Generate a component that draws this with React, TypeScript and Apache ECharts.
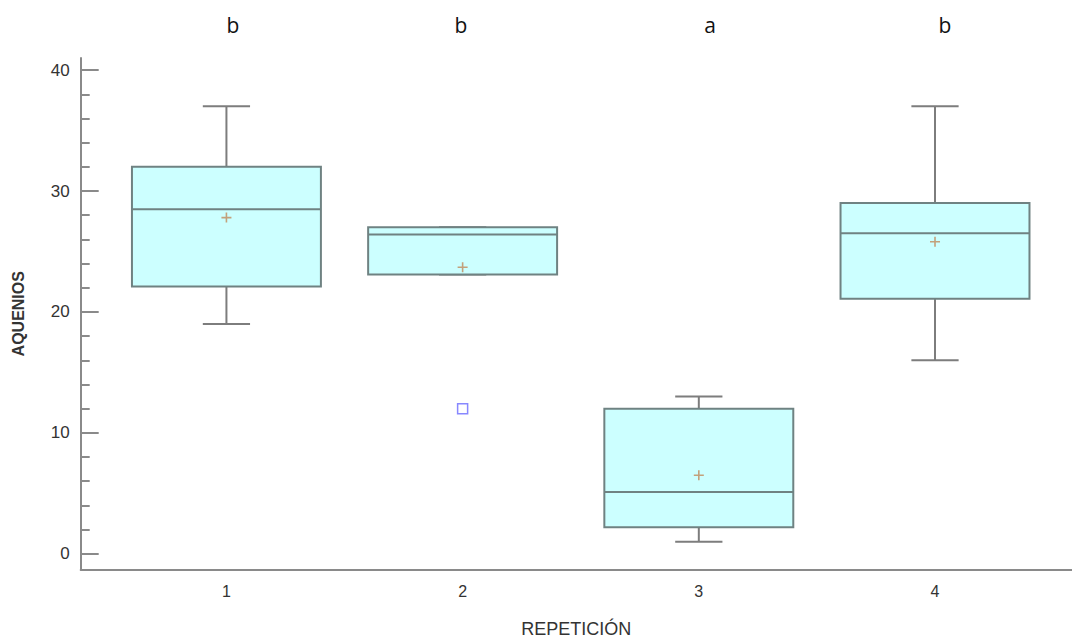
import React, { useEffect, useRef } from "react";
import * as echarts from "echarts";

const categories = [1, 2, 3, 4];
const lowerWhisker = [19, 23.1, 1, 16];
const q1 = [22.1, 23.1, 2.2, 21.1];
const median = [28.5, 26.4, 5.1, 26.5];
const q3 = [32, 27, 12, 29];
const upperWhisker = [37, 27, 13, 37];
const means = [27.8, 23.7, 6.5, 25.8];
const outliers: [number, number][] = [[2, 12]];
const letters = ["b", "b", "a", "b"];
const letterX = [233, 461, 710, 945];
const yMajor = [0, 10, 20, 30, 40];
const yMinor = [2, 4, 6, 8, 12, 14, 16, 18, 22, 24, 26, 28, 32, 34, 36, 38];

const AXIS = "#8a8a8a";
const BOX_EDGE = "#6f8282";

export default function App() {
  const ref = useRef<HTMLDivElement>(null);
  useEffect(() => {
    if (!ref.current) return;
    const chart = echarts.init(ref.current, null, { renderer: "svg" });
    const boxData = categories.map((c, i) => [
      c,
      lowerWhisker[i],
      q1[i],
      median[i],
      q3[i],
      upperWhisker[i],
    ]);
    const yCommon = {
      type: "value",
      min: -1.3,
      max: 41,
      splitLine: { show: false },
    };
    chart.setOption({
      animation: false,
      backgroundColor: "#ffffff",
      grid: {
        left: 80.7,
        right: 0,
        top: 58,
        bottom: 74.5,
        containLabel: false,
        outerBoundsMode: "none",
      },
      xAxis: {
        type: "value",
        min: 0.383,
        max: 4.58,
        name: "REPETICIÓN",
        nameLocation: "middle",
        nameGap: 50,
        nameTextStyle: {
          fontFamily: "Liberation Sans Narrow, Arial Narrow, Liberation Sans, sans-serif",
          fontSize: 18,
          color: "#333",
        },
        axisLine: { show: true, onZero: false, lineStyle: { color: AXIS, width: 2 } },
        axisTick: { show: false },
        splitLine: { show: false },
        axisLabel: {
          customValues: categories,
          fontFamily: "Liberation Sans, Arial, sans-serif",
          fontSize: 16,
          color: "#333",
          margin: 14,
        },
      },
      yAxis: [
        {
          ...yCommon,
          name: "AQUENIOS",
          nameLocation: "middle",
          nameGap: 54,
          nameTextStyle: {
            fontFamily: "Liberation Sans Narrow, Arial Narrow, Liberation Sans, sans-serif",
            fontSize: 16,
            fontWeight: "bold",
            color: "#333",
          },
          axisLine: { show: true, onZero: false, lineStyle: { color: AXIS, width: 2 } },
          axisTick: {
            show: true,
            inside: true,
            length: 18,
            customValues: yMajor,
            lineStyle: { color: AXIS, width: 2 },
          },
          axisLabel: {
            customValues: yMajor,
            fontFamily: "Liberation Sans, Arial, sans-serif",
            fontSize: 17,
            color: "#333",
            margin: 11,
          },
        },
        {
          ...yCommon,
          position: "left",
          axisLine: { show: false, onZero: false },
          axisTick: {
            show: true,
            inside: true,
            length: 9,
            customValues: yMinor,
            lineStyle: { color: AXIS, width: 2 },
          },
          axisLabel: { show: false },
        },
      ],
      graphic: letters.map((t, i) => ({
        type: "text",
        x: letterX[i],
        y: 25,
        style: {
          text: t,
          fontFamily: "Open Sans, Liberation Sans, sans-serif",
          fontSize: 21,
          fill: "#111",
          textAlign: "center",
          textVerticalAlign: "middle",
        },
      })),
      series: [
        {
          type: "custom",
          yAxisIndex: 0,
          data: boxData,
          renderItem: (params: any, api: any) => {
            const x = api.value(0);
            const lw = api.coord([x, api.value(1)]);
            const b1 = api.coord([x, api.value(2)]);
            const md = api.coord([x, api.value(3)]);
            const b3 = api.coord([x, api.value(4)]);
            const uw = api.coord([x, api.value(5)]);
            const boxW = api.size([0.8, 0])[0];
            const capW = api.size([0.2, 0])[0];
            const cx = lw[0];
            const lineStyle = { stroke: "#7d7d7d", lineWidth: 2 };
            return {
              type: "group",
              children: [
                {
                  type: "line",
                  shape: { x1: cx, y1: uw[1], x2: cx, y2: b3[1] },
                  style: lineStyle,
                },
                {
                  type: "line",
                  shape: { x1: cx, y1: b1[1], x2: cx, y2: lw[1] },
                  style: lineStyle,
                },
                {
                  type: "line",
                  shape: { x1: cx - capW / 2, y1: uw[1], x2: cx + capW / 2, y2: uw[1] },
                  style: lineStyle,
                },
                {
                  type: "line",
                  shape: { x1: cx - capW / 2, y1: lw[1], x2: cx + capW / 2, y2: lw[1] },
                  style: lineStyle,
                },
                {
                  type: "rect",
                  shape: {
                    x: cx - boxW / 2,
                    y: b3[1],
                    width: boxW,
                    height: b1[1] - b3[1],
                  },
                  style: { fill: "#ccffff", stroke: BOX_EDGE, lineWidth: 2 },
                },
                {
                  type: "line",
                  shape: { x1: cx - boxW / 2, y1: md[1], x2: cx + boxW / 2, y2: md[1] },
                  style: { stroke: BOX_EDGE, lineWidth: 2 },
                },
              ],
            };
          },
          z: 2,
        },
        {
          type: "scatter",
          yAxisIndex: 0,
          data: categories.map((c, i) => [c, means[i]]),
          symbol:
            "path://M4.2,0 L5.8,0 L5.8,4.2 L10,4.2 L10,5.8 L5.8,5.8 L5.8,10 L4.2,10 L4.2,5.8 L0,5.8 L0,4.2 L4.2,4.2 Z",
          symbolSize: 10,
          itemStyle: { color: "#c08a5a" },
          z: 5,
        },
        {
          type: "scatter",
          yAxisIndex: 0,
          data: outliers,
          symbol: "rect",
          symbolSize: 10,
          itemStyle: { color: "rgba(0,0,0,0)", borderColor: "#6a6aff", borderWidth: 1.5 },
          z: 5,
        },
      ],
    });
    return () => chart.dispose();
  }, []);
  return (
    <div
      ref={ref}
      style={{ position: "fixed", left: 0, top: 0, width: 1072, height: 644 }}
    />
  );
}
